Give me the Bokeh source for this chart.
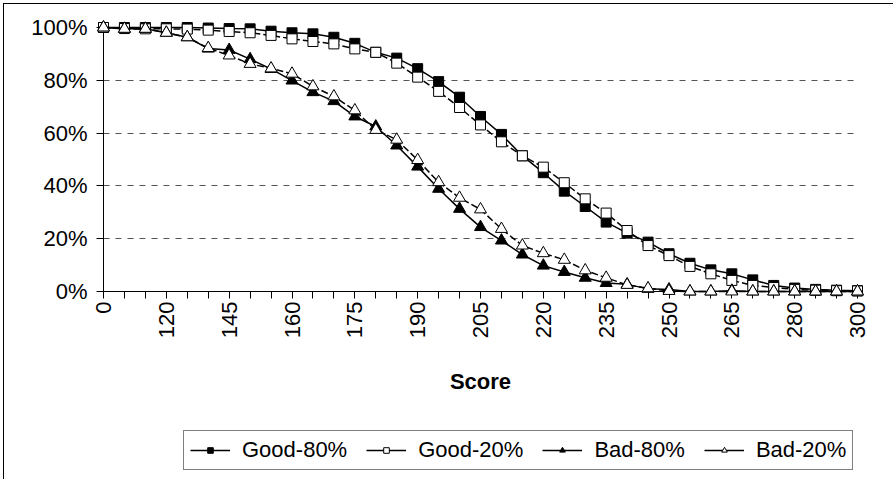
import math
from bokeh.plotting import figure
from bokeh.layouts import column
from bokeh.models import ColumnDataSource, FixedTicker, Range1d, Legend, LegendItem
from bokeh.embed import file_html
from bokeh.resources import INLINE

# ---------------- data ----------------
scores = ["0", "100", "110", "120", "130", "140", "145", "150", "155", "160",
          "165", "170", "175", "180", "185", "190", "195", "200", "205", "210",
          "215", "220", "225", "230", "235", "240", "245", "250", "255", "260",
          "265", "270", "275", "280", "285", "290", "300"]
good_80 = [100, 100, 100, 100, 100, 99.8, 99.6, 99.5, 98.6, 98.0,
           97.6, 96.3, 94.0, 90.6, 88.4, 84.4, 79.5, 73.6, 66.3, 59.5,
           51.4, 45.0, 38.0, 32.2, 26.3, 22.1, 18.7, 14.3, 10.7, 8.2,
           6.7, 4.4, 2.3, 1.3, 0.8, 0.5, 0.3]
good_20 = [100, 99.6, 99.5, 99.5, 99.4, 99.0, 98.5, 98.0, 97.0, 95.7,
           94.7, 93.8, 91.9, 90.6, 86.5, 81.2, 75.8, 69.7, 63.1, 56.7,
           51.4, 47.1, 41.2, 35.1, 29.7, 23.1, 17.4, 13.6, 9.5, 6.7,
           4.2, 2.3, 1.5, 0.8, 0.5, 0.3, 0.2]
bad_80 = [100, 99.5, 99.5, 98.0, 96.3, 92.0, 91.5, 88.0, 84.3, 79.9,
          75.5, 72.1, 66.3, 62.5, 55.3, 47.3, 38.9, 31.3, 24.4, 19.3,
          14.0, 9.8, 7.4, 5.2, 3.2, 2.7, 1.0, 0.8, 0.0, 0.0,
          0.3, 0.0, 0.0, 0.0, 0.0, 0.0, 0.0]
bad_20 = [100, 99.5, 99.5, 98.0, 96.3, 92.2, 89.4, 86.2, 84.5, 82.5,
          77.7, 73.9, 68.6, 61.2, 57.5, 49.8, 41.4, 35.5, 31.1, 23.7,
          17.4, 14.5, 12.0, 8.0, 5.2, 2.5, 1.2, 0.2, 0.0, 0.0,
          0.0, 0.0, 0.0, 0.0, 0.0, 0.0, 0.0]
series_names = ["Good-80%", "Good-20%", "Bad-80%", "Bad-20%"]
y_ticks = [0, 20, 40, 60, 80, 100]
y_tick_labels = ["0%", "20%", "40%", "60%", "80%", "100%"]
label_every = 3
x_title = "Score"

# ---------------- style ----------------
FONT = "Liberation Sans"
FS = "22px"
cols = ["g80", "g20", "b80", "b20"]
markers = ["square", "square", "triangle", "triangle"]
fills = ["black", "white", "black", "white"]
dashes = ["solid", "7 3", "solid", "7 3"]
sizes = [10, 10, 12, 12]

n = len(scores) - 1
idx = list(range(len(scores)))
src = ColumnDataSource(dict(x=idx, g80=good_80, g20=good_20, b80=bad_80, b20=bad_20))

# ---------------- main chart ----------------
p = figure(width=890, height=410, output_backend="svg", toolbar_location=None,
           x_range=Range1d(0, n), y_range=Range1d(0, 100),
           min_border_left=99, min_border_top=23, min_border_right=37, min_border_bottom=123,
           background_fill_color="white", border_fill_color="white",
           outline_line_color=None)

p.xgrid.visible = False
p.ygrid.ticker = FixedTicker(ticks=y_ticks)
p.ygrid.grid_line_color = "#555555"
p.ygrid.grid_line_dash = "6 6"
p.ygrid.grid_line_width = 1

for ax in (p.xaxis[0], p.yaxis[0]):
    ax.axis_line_color = "black"
    ax.axis_line_width = 1
    ax.major_tick_line_color = "black"
    ax.major_tick_out = 7
    ax.major_tick_in = 0
    ax.minor_tick_line_color = None
    ax.major_label_text_font = FONT
    ax.major_label_text_font_size = FS
    ax.major_label_text_color = "black"

p.yaxis.ticker = FixedTicker(ticks=y_ticks)
p.yaxis.major_label_overrides = {v: s for v, s in zip(y_ticks, y_tick_labels)}
p.yaxis.major_label_standoff = 9

p.xaxis.ticker = FixedTicker(ticks=idx)
p.xaxis.major_label_overrides = {i: (scores[i] if i % label_every == 0 else "") for i in idx}
p.xaxis.major_label_orientation = math.pi / 2
p.xaxis.major_label_standoff = 3
p.xaxis.axis_label = x_title
p.xaxis.axis_label_text_font = FONT
p.xaxis.axis_label_text_font_style = "bold"
p.xaxis.axis_label_text_font_size = FS
p.xaxis.axis_label_text_color = "black"
p.xaxis.axis_label_standoff = 28

for c, m, f, d, s in zip(cols, markers, fills, dashes, sizes):
    p.line("x", c, source=src, line_color="black", line_width=1.5, line_dash=d,
           level="overlay")
    p.scatter("x", c, source=src, marker=m, size=s, fill_color=f,
              line_color="black", line_width=1, level="overlay")

# ---------------- legend strip ----------------
q = figure(width=890, height=66, output_backend="svg", toolbar_location=None,
           x_range=Range1d(0, 1), y_range=Range1d(0, 1),
           x_axis_type=None, y_axis_type=None,
           min_border_left=0, min_border_right=0, min_border_top=0, min_border_bottom=0,
           background_fill_color="white", border_fill_color="white",
           outline_line_color=None)
q.xgrid.visible = False
q.ygrid.visible = False

items = []
for name, m, f, s in zip(series_names, markers, fills, sizes):
    rl = q.line(x=[-5, -4], y=[-5, -4], line_color="black", line_width=1.5)
    rs = q.scatter(x=[-5], y=[-5], marker=m, size=s - 2, fill_color=f,
                   line_color="black", line_width=1)
    items.append(LegendItem(label=name, renderers=[rl, rs]))

legend = Legend(items=items, orientation="horizontal", location=(80, 10),
                border_line_color="black", border_line_width=1,
                background_fill_color="white", background_fill_alpha=1,
                label_text_font=FONT, label_text_font_size=FS,
                label_text_color="black", label_height=21,
                glyph_width=40, glyph_height=14, label_standoff=12,
                spacing=19, padding=6, margin=0)
q.add_layout(legend)

layout = column(p, q, spacing=0,
                styles={"margin-left": "4px", "margin-top": "4px",
                        "box-shadow": "-1px -1px 0 0 #000"})

open("out.html", "w").write(file_html(layout, INLINE))
